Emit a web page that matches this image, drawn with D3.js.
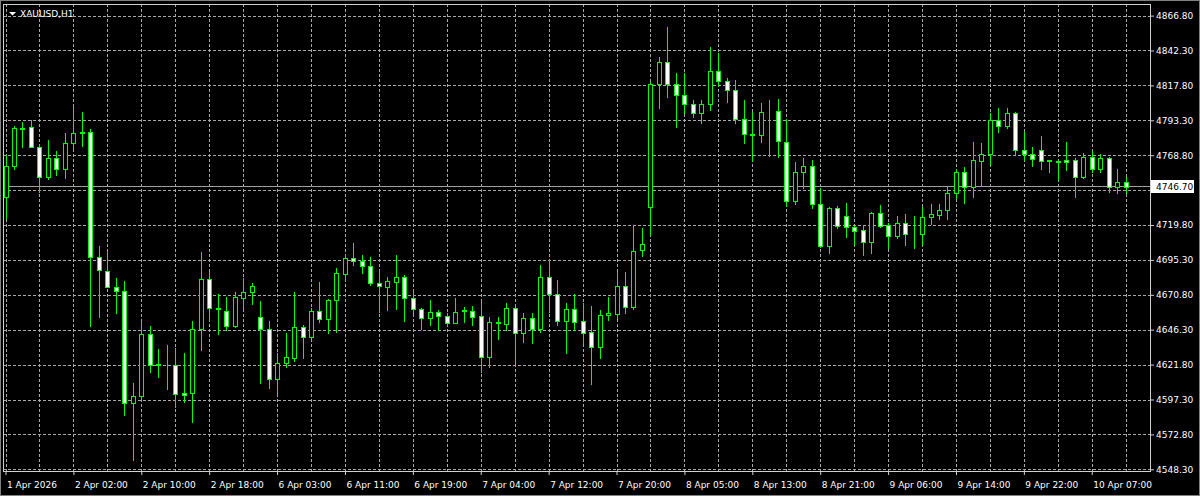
<!DOCTYPE html>
<html>
<head>
<meta charset="utf-8">
<script src="https://cdn.jsdelivr.net/npm/d3@7"></script>
<style>
    html, body { margin: 0; padding: 0; background: #000; }
    svg { display: block; }
</style>
</head>
<body>
<svg id="chart" width="1200" height="496"></svg>
<script>
// XAUUSD H1, 1 Apr 18:00 .. 10 Apr 11:00 (133 bars)
var symbol = 'XAUUSD,H1';

var open = [
    4739.2, 4761.2, 4787.4, 4788.4, 4774.8, 4753.7, 4766.6, 4759.1, 4777.1, 4785.1,
    4785.3, 4697.6, 4687.7, 4676.5, 4673.7, 4594.6, 4599.8, 4643.0, 4622.0, 4622.2,
    4621.5, 4602.1, 4602.1, 4646.8, 4681.9, 4661.3, 4659.7, 4649.1, 4668.8, 4672.5,
    4655.0, 4646.8, 4611.7, 4622.7, 4626.7, 4648.4, 4641.0, 4659.7, 4653.6, 4667.1,
    4685.4, 4696.4, 4694.5, 4691.0, 4678.9, 4676.5, 4680.0, 4683.5, 4668.3, 4660.8,
    4654.3, 4659.0, 4655.9, 4651.2, 4659.4, 4659.7, 4655.9, 4627.4, 4651.7, 4650.3,
    4661.3, 4643.8, 4654.3, 4646.8, 4683.5, 4671.1, 4652.6, 4660.6, 4652.6, 4644.4,
    4633.9, 4656.6, 4657.3, 4677.0, 4662.5, 4702.2, 4732.2, 4818.5, 4834.5, 4818.5,
    4811.1, 4804.5, 4798.7, 4804.5, 4828.1, 4820.9, 4814.6, 4794.2, 4783.7, 4783.0,
    4799.6, 4799.8, 4777.8, 4736.9, 4756.8, 4761.5, 4734.5, 4705.3, 4731.9, 4726.1,
    4718.6, 4716.3, 4707.6, 4728.0, 4719.8, 4712.3, 4721.4, 4713.7, 4713.5, 4725.2,
    4726.8, 4730.3, 4742.0, 4757.2, 4746.7, 4765.0, 4769.6, 4793.5, 4789.5, 4798.7,
    4772.5, 4769.4, 4772.5, 4765.2, 4764.5, 4765.2, 4765.4, 4753.7, 4767.3, 4758.9,
    4766.6, 4746.7, 4750.2
];
var high = [
    4769.0, 4789.3, 4791.9, 4793.5, 4776.0, 4779.5, 4771.7, 4784.1, 4802.9, 4799.4,
    4787.2, 4705.1, 4700.6, 4682.4, 4680.7, 4608.6, 4651.9, 4648.9, 4632.5, 4635.6,
    4633.2, 4630.2, 4652.4, 4700.6, 4687.0, 4671.4, 4669.5, 4673.0, 4682.8, 4678.9,
    4666.5, 4652.4, 4629.7, 4643.8, 4673.0, 4649.6, 4661.3, 4680.0, 4667.9, 4689.4,
    4699.2, 4707.4, 4698.7, 4697.6, 4688.2, 4683.5, 4698.7, 4684.7, 4673.5, 4661.3,
    4667.1, 4660.1, 4657.8, 4668.3, 4662.0, 4662.9, 4666.0, 4655.0, 4655.0, 4664.8,
    4662.0, 4657.8, 4658.3, 4691.7, 4695.7, 4681.2, 4664.8, 4671.4, 4664.8, 4662.9,
    4660.1, 4669.5, 4687.0, 4687.0, 4719.8, 4717.5, 4820.0, 4837.5, 4858.6, 4826.3,
    4826.3, 4807.5, 4807.5, 4845.0, 4840.3, 4822.8, 4821.6, 4807.5, 4799.4, 4805.2,
    4807.5, 4808.0, 4794.0, 4764.3, 4766.6, 4765.4, 4745.5, 4732.7, 4733.1, 4735.5,
    4719.3, 4719.8, 4729.2, 4733.8, 4721.0, 4726.1, 4727.3, 4726.1, 4732.7, 4734.3,
    4734.5, 4747.2, 4758.4, 4760.7, 4778.3, 4777.6, 4798.7, 4801.7, 4801.7, 4799.4,
    4785.3, 4774.3, 4782.5, 4765.4, 4764.7, 4778.3, 4766.6, 4770.6, 4771.7, 4769.6,
    4767.8, 4758.9, 4753.7
];
var low = [
    4725.0, 4758.9, 4774.8, 4774.3, 4743.2, 4751.9, 4754.9, 4752.6, 4773.6, 4775.3,
    4648.9, 4655.5, 4676.0, 4657.8, 4586.4, 4554.8, 4597.4, 4616.8, 4613.3, 4604.5,
    4592.3, 4595.8, 4581.7, 4632.0, 4653.1, 4643.0, 4646.1, 4648.0, 4661.8, 4664.4,
    4608.6, 4605.6, 4600.9, 4620.4, 4624.6, 4626.2, 4640.2, 4652.0, 4643.8, 4644.9,
    4681.2, 4691.7, 4685.9, 4677.7, 4659.0, 4660.1, 4660.6, 4652.6, 4658.3, 4646.6,
    4649.6, 4646.1, 4649.6, 4650.8, 4652.0, 4649.6, 4616.8, 4619.9, 4639.8, 4646.1,
    4623.2, 4637.9, 4636.7, 4644.9, 4659.0, 4649.6, 4629.7, 4646.1, 4636.3, 4607.9,
    4626.2, 4653.1, 4654.3, 4657.8, 4660.6, 4698.0, 4712.8, 4802.2, 4809.9, 4788.8,
    4798.2, 4795.4, 4791.2, 4800.5, 4817.6, 4805.9, 4791.2, 4777.1, 4765.0, 4778.3,
    4768.5, 4767.8, 4733.1, 4734.5, 4745.5, 4731.5, 4704.6, 4699.9, 4717.5, 4711.2,
    4705.8, 4698.7, 4699.9, 4718.2, 4703.4, 4710.4, 4705.8, 4703.4, 4705.8, 4720.5,
    4723.8, 4723.8, 4738.5, 4735.0, 4739.7, 4747.9, 4761.9, 4785.3, 4787.7, 4768.9,
    4765.4, 4761.2, 4758.9, 4757.2, 4751.4, 4758.4, 4739.2, 4752.6, 4757.2, 4757.2,
    4743.2, 4742.0, 4742.5
];
var close = [
    4761.2, 4787.7, 4787.9, 4774.8, 4753.7, 4766.6, 4759.1, 4777.1, 4784.6, 4784.4,
    4697.6, 4688.2, 4676.5, 4673.7, 4594.6, 4599.8, 4643.0, 4621.5, 4621.7, 4622.0,
    4601.2, 4600.5, 4646.6, 4681.9, 4661.8, 4660.6, 4648.9, 4669.5, 4673.0, 4677.0,
    4646.8, 4611.7, 4623.2, 4626.9, 4648.4, 4641.0, 4659.7, 4653.6, 4667.1, 4685.9,
    4696.6, 4694.5, 4691.0, 4678.9, 4677.0, 4680.5, 4683.5, 4668.3, 4660.6, 4654.3,
    4659.0, 4655.9, 4651.2, 4659.0, 4659.9, 4655.5, 4627.4, 4651.5, 4651.2, 4661.3,
    4643.8, 4654.3, 4646.8, 4683.5, 4671.1, 4652.6, 4660.6, 4652.0, 4644.2, 4633.9,
    4656.6, 4657.8, 4677.0, 4662.5, 4701.5, 4706.2, 4818.5, 4834.5, 4818.5, 4811.1,
    4804.5, 4798.7, 4804.5, 4828.1, 4820.9, 4814.6, 4794.2, 4783.7, 4783.2, 4799.4,
    4799.8, 4778.8, 4736.9, 4756.8, 4761.5, 4734.5, 4705.3, 4731.9, 4719.3, 4718.2,
    4715.8, 4707.6, 4728.0, 4719.3, 4712.3, 4721.4, 4713.5, 4713.2, 4725.2, 4727.3,
    4730.3, 4742.0, 4757.2, 4746.7, 4765.4, 4769.6, 4793.5, 4789.5, 4798.7, 4772.5,
    4769.6, 4765.9, 4765.0, 4764.7, 4764.0, 4764.0, 4753.7, 4767.3, 4758.9, 4766.6,
    4746.7, 4750.2, 4746.7
];

// labels every 8 bars, starting at bar 0
var timeLabels = [
    '1 Apr 2026', '2 Apr 02:00', '2 Apr 10:00', '2 Apr 18:00', '6 Apr 03:00',
    '6 Apr 11:00', '6 Apr 19:00', '7 Apr 04:00', '7 Apr 12:00', '7 Apr 20:00',
    '8 Apr 05:00', '8 Apr 13:00', '8 Apr 21:00', '9 Apr 06:00', '9 Apr 14:00',
    '9 Apr 22:00', '10 Apr 07:00'
];
var priceTicks = [
    4548.30, 4572.80, 4597.30, 4621.80, 4646.30, 4670.80, 4695.30,
    4719.80, 4744.30, 4768.80, 4793.30, 4817.80, 4842.30, 4866.80
];
var lastPrice = 4746.70;

var W = 1200, H = 496;
var frame = { left: 3, top: 4, right: 1150, bottom: 471 };
var font = '"DejaVu Sans", Verdana, sans-serif';
var green = '#00ff00';

var svg = d3.select('#chart');

svg.append('rect')
    .attr('width', W)
    .attr('height', H)
    .attr('fill', '#000');

var n = close.length;

var x = d3.scaleLinear()
    .domain([0, n - 1])
    .range([5.5, 1125.7]);

var y = d3.scaleLinear()
    .domain([4548.3, 4866.8])
    .range([469.3, 15.6]);

var px = function (v) { return Math.round(v) + 0.5; };

// grid
var grid = svg.append('g')
    .attr('stroke', '#a8a8a8')
    .attr('stroke-width', 1)
    .attr('stroke-dasharray', '3,2');

grid.selectAll('line.h')
    .data(priceTicks)
    .enter()
    .append('line')
    .attr('class', 'h')
    .attr('x1', frame.left)
    .attr('x2', frame.right)
    .attr('y1', function (d) { return px(y(d)); })
    .attr('y2', function (d) { return px(y(d)); });

grid.selectAll('line.v')
    .data(d3.range(0, n, 4))
    .enter()
    .append('line')
    .attr('class', 'v')
    .attr('x1', function (d) { return px(x(d)); })
    .attr('x2', function (d) { return px(x(d)); })
    .attr('y1', frame.top)
    .attr('y2', frame.bottom);

// last price line
svg.append('line')
    .attr('x1', frame.left)
    .attr('x2', frame.right)
    .attr('y1', px(y(lastPrice)) - 1)
    .attr('y2', px(y(lastPrice)) - 1)
    .attr('stroke', '#a0a0a0')
    .attr('stroke-width', 1);

// candles
var bars = d3.range(n);

var candles = svg.append('g');

candles.selectAll('line.wick')
    .data(bars)
    .enter()
    .append('line')
    .attr('class', 'wick')
    .attr('x1', function (i) { return Math.round(x(i)) + 0.5; })
    .attr('x2', function (i) { return Math.round(x(i)) + 0.5; })
    .attr('y1', function (i) { return Math.round(y(high[i])); })
    .attr('y2', function (i) { return Math.round(y(low[i])) + 1; })
    .attr('stroke', green)
    .attr('stroke-width', 1);

candles.selectAll('rect.body')
    .data(bars)
    .enter()
    .append('rect')
    .attr('class', 'body')
    .attr('x', function (i) { return Math.round(x(i)) - 1.5; })
    .attr('y', function (i) { return px(y(Math.max(open[i], close[i]))); })
    .attr('width', 4)
    .attr('height', function (i) {
        return Math.round(y(Math.min(open[i], close[i]))) - Math.round(y(Math.max(open[i], close[i])));
    })
    .attr('fill', function (i) { return close[i] >= open[i] ? '#000' : '#fff'; })
    .attr('stroke', green)
    .attr('stroke-width', 1);

// frame
svg.append('rect')
    .attr('x', frame.left + 0.5)
    .attr('y', frame.top + 0.5)
    .attr('width', frame.right - frame.left)
    .attr('height', frame.bottom - frame.top)
    .attr('fill', 'none')
    .attr('stroke', '#d0d0d0');

svg.append('rect')
    .attr('x', 0.5)
    .attr('y', 0.5)
    .attr('width', W - 1)
    .attr('height', H - 1)
    .attr('fill', 'none')
    .attr('stroke', '#808080');

// price axis
var yAxis = d3.axisRight(y)
    .tickValues(priceTicks.filter(function (d) {
        return Math.abs(y(d) - y(lastPrice)) > 10;
    }))
    .tickSize(4)
    .tickPadding(2)
    .tickFormat(d3.format('.2f'));

var gy = svg.append('g')
    .attr('transform', 'translate(' + frame.right + ',0)')
    .call(yAxis);

gy.select('.domain').remove();
gy.selectAll('line').attr('stroke', '#d0d0d0');
gy.selectAll('text')
    .attr('fill', '#fff')
    .style('font-family', font)
    .style('font-size', '9px');

// time axis
var xAxis = d3.axisBottom(x)
    .tickValues(d3.range(0, timeLabels.length).map(function (k) { return k * 8; }))
    .tickSize(4)
    .tickPadding(7)
    .tickFormat(function (d, i) { return timeLabels[i]; });

var gx = svg.append('g')
    .attr('transform', 'translate(0,' + frame.bottom + ')')
    .call(xAxis);

gx.select('.domain').remove();
gx.selectAll('line').attr('stroke', '#d0d0d0');
gx.selectAll('text')
    .attr('fill', '#fff')
    .attr('text-anchor', 'start')
    .attr('x', 1)
    .style('font-family', font)
    .style('font-size', '9px');

// last price label
var ly = px(y(lastPrice)) - 1;

svg.append('rect')
    .attr('x', frame.right + 1)
    .attr('y', ly - 6.5)
    .attr('width', 43)
    .attr('height', 13)
    .attr('fill', '#fff');

svg.append('text')
    .attr('x', frame.right + 6)
    .attr('y', ly)
    .attr('dy', '0.35em')
    .attr('fill', '#000')
    .style('font-family', font)
    .style('font-size', '9px')
    .text(d3.format('.2f')(lastPrice));

// title
svg.append('path')
    .attr('d', 'M9,12 L16,12 L12.5,15.5 Z')
    .attr('fill', '#fff');

svg.append('text')
    .attr('x', 20)
    .attr('y', 17)
    .attr('fill', '#fff')
    .style('font-family', font)
    .style('font-size', '9px')
    .text(symbol);
</script>
</body>
</html>
